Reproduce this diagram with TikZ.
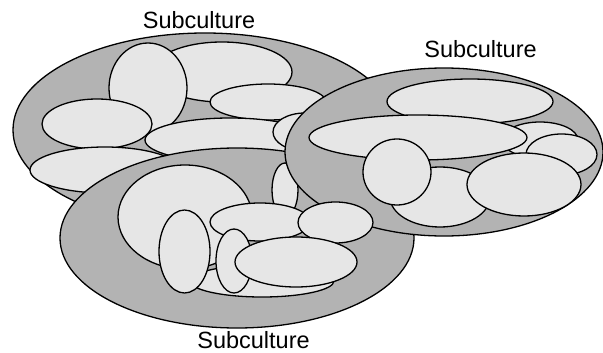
\documentclass[tikz,border=0pt]{standalone}
\usepackage{fontspec}
\setmainfont{Liberation Sans}
\begin{document}
\begin{tikzpicture}[x=1pt, y=-1pt,
    outerEllipse/.style={fill=outerColour, draw=borderColour, line width=1.3pt},
    innerEllipse/.style={fill=innerColour, draw=borderColour, line width=1.3pt},
    labelText/.style={anchor=base, inner sep=0pt, font=\fontsize{23.5}{28}\selectfont}]
    % Define colours
    \definecolor{borderColour}{HTML}{000000}
    \definecolor{outerColour}{HTML}{B3B3B3}
    \definecolor{innerColour}{HTML}{E6E6E6}

    % Fix the page size
    \useasboundingbox (0,0) rectangle (603,353);

    % Draw left subculture and its groups
    \filldraw[outerEllipse] (205,130) ellipse [x radius=192, y radius=97];
    \foreach \cx/\cy/\rx/\ry in {222/72/70/30, 148/88/39/45, 268/102/58/18, 230/140/85/22,
                                 97/124/55/25, 105/170/75/23, 305/132/32/19}
        \filldraw[innerEllipse] (\cx,\cy) ellipse [x radius=\rx, y radius=\ry];

    % Draw bottom subculture and the groups lying under the right one
    \filldraw[outerEllipse] (237,238) ellipse [x radius=177, y radius=90];
    \foreach \cx/\cy/\rx/\ry in {185/217/67/52, 262/281/72/16, 184.5/251.5/25.5/41.5,
                                 285/190/13/27, 260/222/50/19, 234/261/18/32}
        \filldraw[innerEllipse] (\cx,\cy) ellipse [x radius=\rx, y radius=\ry];

    % Draw right subculture and its groups
    \filldraw[outerEllipse] (444,152) ellipse [x radius=159, y radius=84];
    \foreach \cx/\cy/\rx/\ry in {470/101.5/83/22.5, 540/140/38/18, 418/137.5/109/22.5,
                                 561.5/154.5/35.5/20.5, 440/197/50/30, 524/184.5/57/31.5,
                                 397/172/34/33}
        \filldraw[innerEllipse] (\cx,\cy) ellipse [x radius=\rx, y radius=\ry];

    % Bottom groups lying over the right subculture
    \foreach \cx/\cy/\rx/\ry in {335.5/222.5/37.5/20.5, 296/262/61/25}
        \filldraw[innerEllipse] (\cx,\cy) ellipse [x radius=\rx, y radius=\ry];

    % Labels
    \node[labelText] (leftLabel) at (199,29) {Subculture};
    \node[labelText] (rightLabel) at (480.5,58) {Subculture};
    \node[labelText] (bottomLabel) at (253.5,348) {Subculture};

\end{tikzpicture}
\end{document}
